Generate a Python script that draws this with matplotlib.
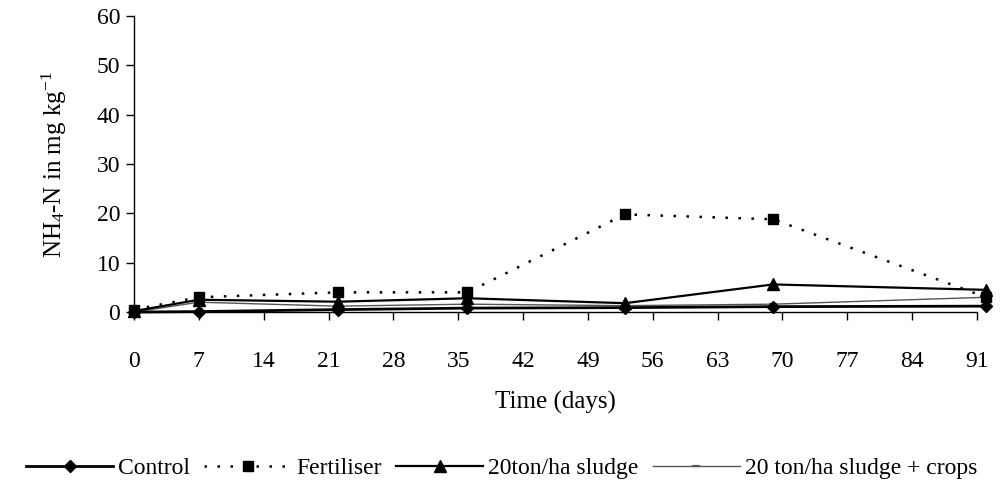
import matplotlib
matplotlib.use("Agg")
import matplotlib.pyplot as plt

plt.rcParams["font.family"] = ["Liberation Serif", "DejaVu Serif"]
plt.rcParams["mathtext.fontset"] = "custom"
plt.rcParams["mathtext.rm"] = "Liberation Serif"
plt.rcParams["mathtext.it"] = "Liberation Serif:italic"

# Sampling days and NH4-N concentrations (mg/kg)
days = [0, 7, 22, 36, 53, 69, 92]
control = [0.0, 0.1, 0.5, 0.8, 0.9, 1.1, 1.2]
fertiliser = [0.5, 3.0, 4.0, 4.0, 19.8, 18.8, 3.0]
sludge = [0.2, 2.5, 2.1, 2.8, 1.8, 5.6, 4.5]
sludge_crops = [0.0, 2.0, 1.2, 1.6, 1.3, 1.6, 3.0]

xticks = [0, 7, 14, 21, 28, 35, 42, 49, 56, 63, 70, 77, 84, 91]
yticks = [0, 10, 20, 30, 40, 50, 60]

fig = plt.figure(figsize=(10.03, 4.93), dpi=100)
ax = fig.add_axes([0.1336, 0.367, 0.8404, 0.6005])

ax.plot(days, control, color="black", lw=2.0, marker="D", ms=6.5,
        label="Control", clip_on=False, zorder=4)
ax.plot(days, fertiliser, color="black", lw=1.8, linestyle=(0, (1, 4.2)),
        marker="s", ms=7.5, label="Fertiliser", clip_on=False, zorder=3)
ax.plot(days, sludge, color="black", lw=1.6, marker="^", ms=8,
        label="20ton/ha sludge", clip_on=False, zorder=3)
ax.plot(days, sludge_crops, color="#555555", lw=1.0, marker="_", ms=6,
        mew=1.5, label="20 ton/ha sludge + crops", clip_on=False, zorder=2)

ax.set_xlim(0, 91)
ax.set_ylim(0, 60)
ax.set_xticks(xticks)
ax.set_yticks(yticks)
ax.tick_params(axis="x", direction="out", length=6, width=1, labelsize=17, pad=22)
ax.tick_params(axis="y", direction="out", length=6, width=1, labelsize=17, pad=4)

for side in ("top", "right"):
    ax.spines[side].set_visible(False)
for side in ("left", "bottom"):
    ax.spines[side].set_linewidth(1.0)

ax.set_xlabel("Time (days)", fontsize=18, labelpad=14)
ax.set_ylabel(r"NH$_{\mathregular{4}}$-N in mg kg$^{\mathregular{-1}}$",
              fontsize=18, labelpad=20)

fig.legend(loc="lower center", bbox_to_anchor=(0.5, 0.0), ncol=4,
           frameon=False, fontsize=17, handlelength=3.7, handletextpad=0.2,
           columnspacing=0.6, borderaxespad=0.2)

fig.savefig("out.png", dpi=100)
